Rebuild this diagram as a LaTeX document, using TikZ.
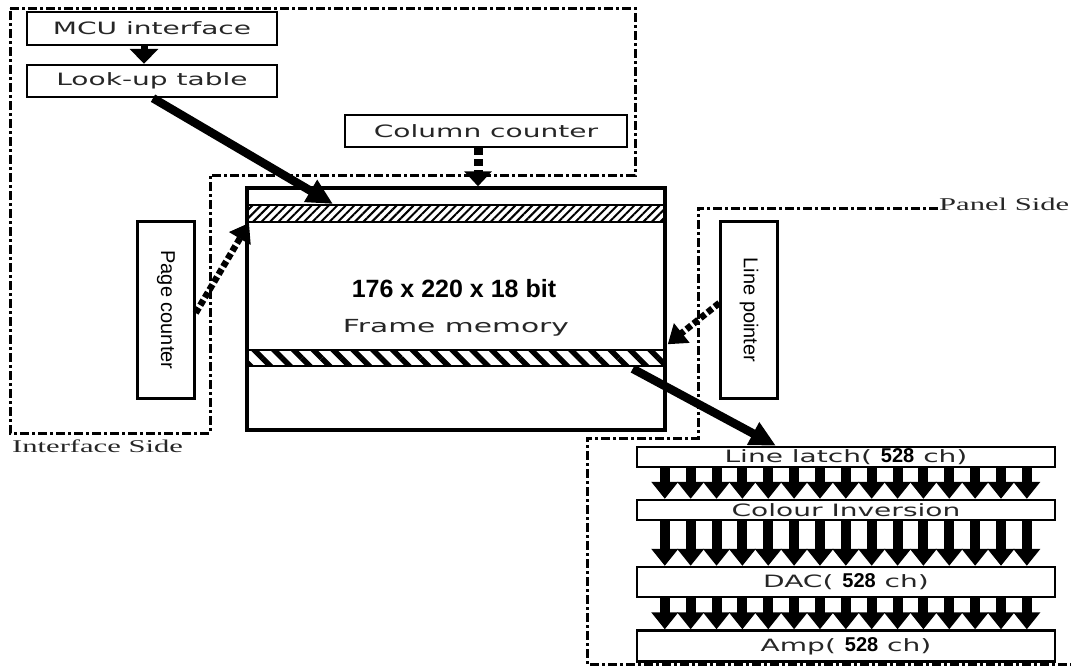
\documentclass[tikz,border=0pt]{standalone}
\usepackage{fontspec}
\setsansfont{Liberation Sans}
\newfontfamily\lblfont[FakeStretch=1.65]{DejaVu Sans}
\newfontfamily\sidefont[FakeStretch=1.7]{Liberation Serif}
\usetikzlibrary{arrows.meta,calc,patterns.meta}
\newcommand\chnum[1]{{\color{black}\sffamily\bfseries\fontsize{20}{20}\selectfont #1}}

\begin{document}
\begin{tikzpicture}[x=1pt,y=-1pt,line join=miter,
  >={Triangle[width=24pt,length=26pt]},
  blk/.style={draw,line width=2.4pt,inner sep=0pt,text=txt,
    font=\lblfont\fontsize{17}{17}\selectfont},
  vblk/.style={draw,line width=2.4pt,inner sep=0pt,
    font=\sffamily\fontsize{20}{20}\selectfont},
  band/.style={draw,line width=1.5pt,inner sep=0pt,minimum width=418pt},
  area/.style={line width=3pt,dash pattern=on 9pt off 3pt on 3pt off 3pt},
  side/.style={text=txt,font=\sidefont\fontsize{18}{18}\selectfont,inner sep=0pt},
  bus/.style={->,line width=8.5pt},
  ctrl/.style={-{Triangle[width=24pt,length=18pt]},line width=6.5pt,dash pattern=on 6pt off 3pt},
  chan/.style={-{Triangle[width=26pt,length=17pt]},line width=10pt}]
  \definecolor{txt}{HTML}{262626}

  \useasboundingbox (0,0) rectangle (1071,670);

  % the two sides
  \draw[area] (10,8) -- (635,8) -- (635,175) -- (210,175) -- (210,433) -- (10,433) -- cycle;
  \draw[area] (938,208) -- (698,208) -- (698,438) -- (587,438) -- (587,664) -- (1071,664);
  \node[side,anchor=base west] (ifside) at (12,452) {Interface Side};
  \node[side,anchor=base west] (pnlside) at (939,210) {Panel Side};

  % interface side blocks
  \node[blk,minimum width=250pt,minimum height=33pt] (mcu) at (152,28.5) {MCU interface};
  \node[blk,minimum width=250pt,minimum height=32pt] (lut) at (152,81) {Look-up table};
  \node[blk,minimum width=282pt,minimum height=32pt] (col) at (486,131) {Column counter};
  \node[vblk,rotate=-90,minimum width=177pt,minimum height=57pt] (page) at (166,310) {Page counter};

  % frame memory
  \node[draw,line width=3.5pt,inner sep=0pt,minimum width=418pt,minimum height=242pt] (mem) at (456,309) {};
  \node[band,minimum height=17pt,pattern={Lines[angle=45,distance=6pt,line width=2pt]}] (topband) at (456,213.5) {};
  \node[band,minimum height=16pt,pattern={Lines[angle=-45,distance=14pt,line width=5.5pt]}] (botband) at (456,358) {};
  \node[font=\sffamily\bfseries\fontsize{25}{25}\selectfont,anchor=base] (dims) at (454,297) {176 x 220 x 18 bit};
  \node[text=txt,font=\lblfont\fontsize{18}{18}\selectfont,anchor=base] (fmlbl) at (456,332) {Frame memory};

  % panel side blocks
  \node[vblk,rotate=-90,minimum width=177pt,minimum height=57pt] (lptr) at (749,310) {Line pointer};
  \node[blk,minimum width=418pt,minimum height=20pt] (latch) at (846,457) {Line latch( \chnum{528} ch)};
  \node[blk,minimum width=418pt,minimum height=20pt] (inv) at (846,510) {Colour Inversion};
  \node[blk,minimum width=418pt,minimum height=30pt] (dac) at (846,582) {DAC( \chnum{528} ch)};
  \node[blk,minimum width=418pt,minimum height=31pt] (amp) at (846,646) {Amp( \chnum{528} ch)};

  % data paths
  \draw[-{Triangle[width=28pt,length=15pt]},line width=7pt] ([xshift=-8pt]mcu.south) -- ([xshift=-8pt]lut.north);
  \draw[bus] ([xshift=1pt]lut.south) -- ([xshift=-123pt]topband.north);
  \draw[bus] ([xshift=-35pt]botband.south east) -- ([xshift=-70pt]latch.north);

  % counters and pointer
  \draw[-{Triangle[width=27pt,length=15pt]},line width=9pt,dash pattern=on 7pt off 4pt]
    ([xshift=-8pt]col.south) -- ([xshift=22pt]mem.north);
  \draw[ctrl] ([yshift=-3pt]page.north) -- ([xshift=3pt]topband.south west);
  \draw[ctrl] ([yshift=7pt]lptr.south) -- ([yshift=3pt]botband.north east);

  % 528 channels
  \foreach \i in {0,...,14}{
    \pgfmathsetmacro\dx{29+25.86*\i}
    \draw[chan] ([xshift=\dx pt]latch.south west) -- ([xshift=\dx pt]inv.north west);
    \draw[chan] ([xshift=\dx pt]inv.south west) -- ([xshift=\dx pt]dac.north west);
    \draw[chan] ([xshift=\dx pt]dac.south west) -- ([xshift=\dx pt]amp.north west);
  }
\end{tikzpicture}
\end{document}
